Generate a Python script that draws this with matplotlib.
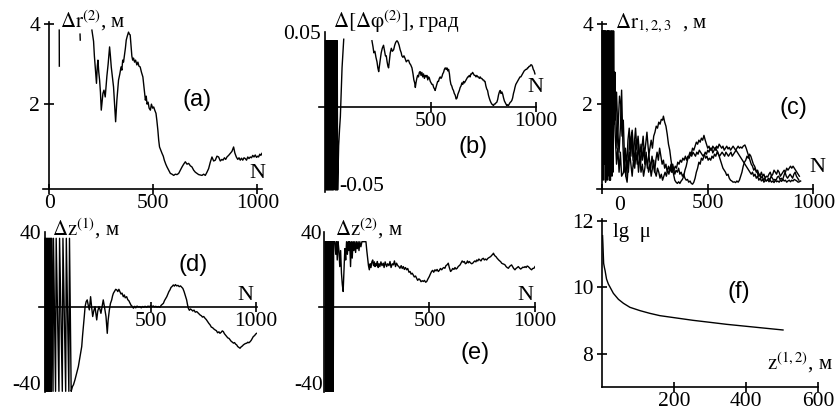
import numpy as np
import matplotlib
matplotlib.use('Agg')
import matplotlib.pyplot as plt

plt.rcParams['font.family'] = ['Liberation Serif', 'DejaVu Serif']
plt.rcParams['mathtext.fontset'] = 'stix'
plt.rcParams['axes.unicode_minus'] = False

nan = np.nan

# (a) dr^(2) vs N
a_pts = [(48, 3.85), (48.5, 2.95), (49, nan), (148, 3.75), (149, 3.6), (150, nan),
         (205, 3.85), (209, 3.7), (213, 3.57), (217, 3.2), (221, 2.93), (224, 2.7), (227, 2.52),
         (231, 2.95), (234, 3.1), (238, 2.8), (242, 2.6), (246, 2.3), (250, 1.85), (254, 2.05),
         (258, 2.27), (263, 2.35), (269, 2.18), (273, 2.45), (277, 2.7), (283, 3.0), (290, 3.43),
         (294, 3.2), (298, 2.93), (303, 2.7), (309, 2.43), (314, 2.0), (319, 1.56), (322, 1.85),
         (325, 2.1), (329, 2.35), (333, 2.6), (339, 2.75), (345, 2.93), (349, 2.85), (353, 3.1),
         (357, 3.05), (361, 3.2), (366, 3.4), (370, 3.6), (375, 3.7), (381, 3.8), (385, 3.75),
         (389, 3.73), (393, 3.45), (397, 3.2), (401, 3.1), (405, 3.15), (410, 3.05), (415, 3.1),
         (421, 2.98), (426, 3.05), (431, 2.95), (437, 2.93), (443, 2.8), (450, 2.68), (456, 2.4),
         (462, 2.1), (466, 2.2), (470, 2.0), (475, 2.05), (480, 1.9), (486, 1.85), (491, 2.0),
         (497, 1.9), (502, 1.93), (507, 1.85), (513, 1.77), (517, 1.6), (522, 1.35), (526, 1.1),
         (530, 0.93), (536, 0.85), (542, 0.77), (548, 0.7), (553, 0.6), (560, 0.5), (566, 0.43),
         (574, 0.35), (582, 0.27), (590, 0.25), (598, 0.22), (606, 0.25), (614, 0.24), (622, 0.27),
         (630, 0.35), (638, 0.43), (646, 0.5), (654, 0.56), (662, 0.5), (670, 0.52), (678, 0.46),
         (686, 0.43), (694, 0.35), (702, 0.3), (710, 0.27), (718, 0.24), (726, 0.23), (734, 0.22),
         (742, 0.25), (750, 0.22), (758, 0.3), (766, 0.39), (774, 0.55), (782, 0.68), (790, 0.58),
         (798, 0.6), (806, 0.7), (814, 0.68), (822, 0.58), (830, 0.62), (835, 0.6), (842, 0.66),
         (848, 0.62), (854, 0.68), (862, 0.72), (870, 0.77), (878, 0.82), (886, 0.93), (892, 0.78),
         (899, 0.68), (906, 0.62), (912, 0.66), (918, 0.6), (924, 0.65), (930, 0.6), (936, 0.66),
         (942, 0.64), (948, 0.6), (954, 0.68), (960, 0.64), (966, 0.68), (972, 0.66), (978, 0.72),
         (984, 0.68), (990, 0.73), (996, 0.67), (1002, 0.7), (1006, 0.68), (1012, 0.75),
         (1017, 0.72), (1022, 0.77)]

# (b) d[dphi^(2)] vs N
b_pts = [(0, 0.044), (2, -0.055), (4, 0.044), (6, -0.055), (8, 0.044), (10, -0.055), (12, 0.044),
         (14, -0.055), (16, 0.044), (18, -0.055), (20, 0.044), (22, -0.055), (24, 0.044),
         (26, -0.055), (28, 0.044), (30, -0.055), (32, 0.044), (34, -0.055), (36, 0.044),
         (38, -0.055), (40, 0.044), (41, nan), (44, 0.044), (46, -0.055), (48, 0.044), (50, -0.055),
         (52, 0.044), (54, -0.055), (56, 0.044), (58, -0.055), (63, -0.0256), (67, -0.015),
         (71, -0.0064), (75, 0.01), (79, 0.026), (83, 0.035), (87, 0.045), (88, nan),
         (221, 0.044), (226, 0.040), (230, 0.036), (235, 0.037), (240, 0.033), (245, 0.030),
         (249, 0.026), (253, 0.0235), (257, 0.028), (261, 0.032), (265, 0.036), (270, 0.039),
         (276, 0.041), (280, 0.038), (285, 0.034), (289, 0.034), (293, 0.030), (297, 0.027),
         (300, 0.026), (304, 0.031), (308, 0.036), (313, 0.039), (318, 0.037), (324, 0.038),
         (329, 0.041), (334, 0.043), (340, 0.044), (345, 0.043), (350, 0.041), (355, 0.038),
         (360, 0.036), (363, 0.034), (368, 0.033), (373, 0.034), (379, 0.032), (384, 0.030),
         (390, 0.031), (395, 0.031), (400, 0.029), (405, 0.028), (411, 0.026), (416, 0.022),
         (420, 0.018), (424, 0.016), (427, 0.013), (430, 0.016), (434, 0.019), (438, 0.021),
         (442, 0.020), (446, 0.023), (450, 0.0235), (454, 0.021), (458, 0.023), (462, 0.020),
         (466, 0.022), (470, 0.019), (474, 0.021), (478, 0.020), (482, 0.021), (486, 0.018),
         (490, 0.020), (494, 0.019), (498, 0.017), (502, 0.016), (506, 0.015), (510, 0.015),
         (514, 0.013), (518, 0.012), (521, 0.011), (525, 0.013), (529, 0.015), (533, 0.017),
         (537, 0.017), (541, 0.019), (545, 0.020), (549, 0.019), (553, 0.020), (557, 0.022),
         (561, 0.023), (565, 0.025), (569, 0.026), (573, 0.025), (577, 0.026), (581, 0.024),
         (585, 0.025), (589, 0.022), (592, 0.018), (596, 0.015), (600, 0.014), (604, 0.012),
         (608, 0.011), (612, 0.009), (616, 0.008), (621, 0.0053), (625, 0.006), (629, 0.0085),
         (632, 0.0096), (636, 0.011), (640, 0.013), (644, 0.014), (648, 0.016), (652, 0.015),
         (656, 0.017), (660, 0.016), (664, 0.017), (668, 0.018), (672, 0.019), (676, 0.020),
         (679, 0.020), (683, 0.021), (687, 0.020), (691, 0.022), (695, 0.022), (699, 0.023),
         (703, 0.022), (707, 0.021), (711, 0.021), (715, 0.020), (719, 0.021), (723, 0.020),
         (727, 0.020), (731, 0.019), (735, 0.020), (739, 0.019), (743, 0.019), (747, 0.018),
         (751, 0.018), (755, 0.017), (758, 0.017), (762, 0.014), (766, 0.012), (770, 0.011),
         (774, 0.008), (778, 0.006), (782, 0.0043), (786, 0.003), (790, 0.002), (794, 0.0015),
         (798, 0.001), (802, 0.002), (806, 0.002), (810, 0.0028), (814, 0.0032), (818, 0.005),
         (822, 0.008), (826, 0.010), (830, 0.011), (834, 0.009), (838, 0.010), (842, 0.0085),
         (846, 0.006), (850, 0.004), (853, 0.0032), (857, 0.002), (861, 0.001), (865, 0.0015),
         (869, 0.001), (873, 0.002), (877, 0.003), (881, 0.0035), (885, 0.0043), (889, 0.006),
         (893, 0.009), (897, 0.011), (900, 0.013), (904, 0.015), (908, 0.016), (912, 0.017),
         (916, 0.018), (920, 0.019), (924, 0.020), (928, 0.020), (932, 0.021), (936, 0.022),
         (940, 0.023), (944, 0.024), (948, 0.0245), (952, 0.025), (956, 0.025), (960, 0.026),
         (963, 0.026), (967, 0.027), (971, 0.027), (975, 0.028), (979, 0.028), (983, 0.027),
         (987, 0.025), (991, 0.024), (995, 0.022)]

# (c) dr_1, dr_2, dr_3 vs N
c1_pts = [(0, 3.83), (3, 0.3), (6, 3.83), (9, 0.8), (12, 3.83), (15, 0.1), (18, 3.83), (21, 1.2),
          (24, 3.83), (27, 0.2), (30, 3.83), (33, 0.6), (36, 3.6), (39, 0.1), (42, 3.83), (45, 1.0),
          (48, 3.3), (51, 0.3), (54, 3.83), (57, 1.5), (60, 2.8), (64, 1.85), (70, 0.9), (76, 1.5),
          (82, 2.2), (88, 2.0), (94, 1.2), (100, 1.6), (106, 0.6), (112, 0.2), (118, 0.05),
          (124, 0.5), (130, 1.2), (136, 0.7), (142, 1.35), (148, 0.9), (154, 0.5), (160, 1.1),
          (166, 0.8), (172, 0.3), (178, 0.7), (184, 1.0), (190, 0.6), (196, 0.9), (202, 0.5),
          (208, 0.8), (214, 0.4), (220, 0.7), (226, 0.9), (232, 1.1), (238, 0.9), (244, 1.2),
          (250, 1.3), (256, 1.45), (262, 1.4), (268, 1.55), (274, 1.5), (280, 1.62), (286, 1.6),
          (290, 1.7), (296, 1.55), (302, 1.45), (308, 1.25), (314, 1.0), (320, 0.85), (326, 0.6),
          (332, 0.4), (338, 0.25), (344, 0.1), (350, 0.05), (356, 0.02), (362, 0.06), (368, 0.02),
          (374, 0.08), (380, 0.12), (386, 0.2), (392, 0.35), (398, 0.45), (404, 0.6), (410, 0.7),
          (416, 0.8), (422, 0.75), (428, 0.9), (434, 0.85), (440, 0.95), (446, 1.05), (452, 1.0),
          (458, 1.1), (464, 1.05), (470, 1.15), (476, 1.1), (482, 1.22), (488, 1.1), (494, 1.0),
          (500, 0.9), (506, 0.95), (512, 0.85), (518, 0.9), (524, 0.78), (530, 0.85), (536, 0.92),
          (542, 0.85), (548, 0.8), (554, 0.7), (560, 0.6), (566, 0.5), (572, 0.4), (578, 0.35),
          (584, 0.3), (590, 0.22), (596, 0.25), (602, 0.15), (608, 0.1), (614, 0.08), (620, 0.05),
          (626, 0.06), (632, 0.04), (638, 0.08), (644, 0.05), (650, 0.1), (656, 0.2), (662, 0.3),
          (668, 0.45), (674, 0.55), (680, 0.6), (686, 0.7), (692, 0.65), (698, 0.75), (704, 0.7),
          (710, 0.6), (716, 0.5), (722, 0.45), (728, 0.35), (734, 0.3), (740, 0.2), (746, 0.25),
          (752, 0.15), (758, 0.2), (764, 0.1), (770, 0.15), (776, 0.08), (782, 0.1), (788, 0.15),
          (794, 0.1), (800, 0.2), (806, 0.15), (812, 0.1), (818, 0.12), (824, 0.1), (830, 0.18),
          (836, 0.2), (842, 0.12), (848, 0.15), (854, 0.1), (860, 0.2), (866, 0.3), (872, 0.2),
          (878, 0.15), (884, 0.2), (890, 0.25), (896, 0.2), (902, 0.15), (908, 0.25), (914, 0.3),
          (920, 0.2), (926, 0.15), (932, 0.1)]
c2_pts = [(1, 3.83), (4, 0.1), (7, 3.83), (10, 0.5), (13, 3.83), (16, 0.05), (19, 3.7), (22, 0.9),
          (25, 3.83), (28, 0.4), (31, 3.83), (34, 0.1), (37, 3.83), (40, 1.3), (43, 3.5), (46, 0.2),
          (49, 3.83), (52, 0.8), (55, 2.4), (62, 1.6), (68, 2.3), (74, 1.3), (80, 0.8), (86, 1.4),
          (92, 2.35), (98, 1.0), (104, 0.3), (110, 0.9), (116, 0.4), (122, 1.1), (128, 1.4),
          (134, 0.9), (140, 1.3), (146, 0.6), (152, 1.0), (158, 1.4), (164, 0.9), (170, 1.2),
          (176, 0.8), (182, 0.5), (188, 0.9), (194, 1.2), (200, 0.7), (206, 1.0), (212, 1.3),
          (218, 0.9), (224, 0.6), (230, 0.4), (236, 0.7), (242, 0.5), (248, 0.3), (254, 0.6),
          (260, 0.8), (266, 0.6), (272, 0.9), (278, 0.7), (284, 0.5), (290, 0.6), (296, 0.4),
          (302, 0.5), (308, 0.3), (314, 0.45), (320, 0.35), (326, 0.5), (332, 0.3), (338, 0.4),
          (344, 0.25), (350, 0.35), (356, 0.3), (362, 0.4), (368, 0.25), (374, 0.3), (380, 0.2),
          (386, 0.25), (392, 0.15), (398, 0.1), (404, 0.12), (410, 0.05), (416, 0.08), (422, 0.02),
          (428, 0.0), (434, 0.05), (440, 0.15), (446, 0.3), (452, 0.4), (458, 0.55), (464, 0.5),
          (470, 0.65), (476, 0.6), (482, 0.7), (488, 0.8), (494, 0.75), (500, 0.85), (506, 0.8),
          (512, 0.9), (518, 0.85), (524, 0.95), (530, 0.9), (536, 0.85), (542, 0.95), (548, 0.9),
          (554, 1.0), (560, 0.95), (566, 0.9), (572, 0.95), (578, 0.85), (584, 0.9), (590, 0.95),
          (596, 0.88), (602, 0.92), (608, 0.85), (614, 0.9), (620, 0.95), (626, 0.9), (632, 0.85),
          (638, 0.9), (644, 0.95), (650, 0.9), (656, 0.93), (662, 0.9), (668, 0.95), (676, 0.98),
          (682, 0.9), (688, 0.8), (694, 0.7), (700, 0.6), (706, 0.5), (712, 0.45), (718, 0.35),
          (724, 0.4), (730, 0.3), (736, 0.35), (742, 0.25), (748, 0.2), (754, 0.3), (760, 0.2),
          (766, 0.25), (772, 0.15), (778, 0.2), (784, 0.18), (790, 0.25), (796, 0.3), (802, 0.2),
          (808, 0.25), (814, 0.35), (820, 0.3), (826, 0.25), (832, 0.35), (838, 0.3), (844, 0.2),
          (850, 0.25), (856, 0.3), (862, 0.35), (868, 0.3), (874, 0.4), (880, 0.35), (886, 0.4),
          (892, 0.45), (898, 0.4), (904, 0.45), (910, 0.4), (916, 0.35), (922, 0.3), (928, 0.25),
          (934, 0.2)]
c3_pts = [(2, 3.83), (5, 0.2), (8, 3.83), (11, 0.6), (14, 3.83), (17, 0.3), (20, 3.5), (23, 0.1),
          (26, 3.83), (29, 0.7), (32, 3.83), (35, 0.2), (38, 3.2), (41, 0.5), (44, 3.83), (50, 3.2),
          (56, 2.0), (62, 1.2), (68, 0.5), (74, 0.9), (80, 0.3), (86, 0.8), (92, 0.2), (100, 0.28),
          (106, 0.5), (112, 0.2), (118, 0.6), (124, 0.3), (130, 0.8), (136, 0.5), (142, 0.2),
          (148, 0.6), (154, 0.4), (160, 0.8), (166, 0.5), (172, 1.0), (178, 0.6), (184, 0.3),
          (190, 0.5), (196, 0.2), (202, 0.4), (208, 0.7), (214, 0.5), (220, 0.3), (226, 0.5),
          (232, 0.2), (238, 0.4), (244, 0.6), (250, 0.3), (256, 0.2), (262, 0.4), (268, 0.3),
          (274, 0.15), (280, 0.25), (286, 0.1), (292, 0.2), (298, 0.3), (304, 0.2), (310, 0.35),
          (316, 0.25), (322, 0.4), (328, 0.3), (334, 0.5), (340, 0.35), (346, 0.45), (352, 0.4),
          (358, 0.55), (364, 0.5), (370, 0.6), (376, 0.55), (382, 0.65), (388, 0.6), (394, 0.7),
          (400, 0.6), (406, 0.7), (412, 0.65), (418, 0.75), (424, 0.7), (430, 0.8), (436, 0.75),
          (442, 0.7), (448, 0.8), (454, 0.75), (460, 0.85), (466, 0.8), (472, 0.75), (478, 0.7),
          (484, 0.75), (490, 0.65), (496, 0.7), (502, 0.6), (508, 0.65), (514, 0.6), (520, 0.7),
          (526, 0.65), (532, 0.75), (538, 0.7), (544, 0.8), (550, 0.75), (556, 0.7), (562, 0.75),
          (568, 0.8), (574, 0.75), (580, 0.7), (586, 0.8), (592, 0.75), (598, 0.7), (604, 0.75),
          (610, 0.8), (616, 0.7), (622, 0.75), (628, 0.8), (634, 0.85), (640, 0.8), (646, 0.75),
          (652, 0.7), (658, 0.65), (664, 0.6), (670, 0.55), (676, 0.5), (682, 0.45), (688, 0.4),
          (694, 0.35), (700, 0.3), (706, 0.25), (712, 0.3), (718, 0.2), (724, 0.25), (730, 0.15),
          (736, 0.2), (742, 0.1), (748, 0.15), (754, 0.08), (760, 0.12), (766, 0.05), (772, 0.1),
          (778, 0.08), (784, 0.12), (790, 0.06), (796, 0.1), (802, 0.05), (808, 0.08), (814, 0.04),
          (820, 0.1), (826, 0.06), (832, 0.08), (838, 0.05), (844, 0.1), (850, 0.07), (856, 0.12),
          (862, 0.08), (868, 0.1), (874, 0.05), (880, 0.08), (886, 0.1), (892, 0.06), (898, 0.1),
          (904, 0.08), (910, 0.12), (916, 0.1), (922, 0.08), (928, 0.05), (934, 0.06), (940, 0.08)]

# (d) dz^(1) vs N
d_pts = [(0, 36.5), (2, -44.5), (4, 36.5), (6, -44.5), (8, 36.5), (10, -44.5), (12, 36.5),
         (14, -44.5), (16, 36.5), (18, -44.5), (20, 36.5), (22, -44.5), (24, 36.5), (26, -44.5),
         (28, 36.5), (30, -44.5), (32, 36.5), (38, -44.5), (40, 36.5), (50, -44.5), (53, 36.5),
         (66, -44.5), (69, 36.5), (82, -44.5), (85, 36.5), (98, -44.5), (101, 36.5), (113, -44.5),
         (116, 36.5), (124, -44.5), (130, -42), (135, -41), (142, -38.4), (150, -35), (158, -31.4),
         (166, -26), (174, -20.8), (178, -15), (182, -10.2), (186, -5), (190, 0.35), (195, 3),
         (200, 3.9), (205, 1), (210, -1.4), (213, 2), (216, 5.6), (221, 0), (226, -4.9), (231, -2),
         (237, 0.35), (241, -3), (245, -6.7), (250, -2), (256, 0.35), (260, -1), (265, -3.2),
         (270, 0), (276, 3.9), (282, 0), (289, -4.9), (292, -9), (295, -13.8), (299, -7),
         (305, -1.4), (310, 2), (316, 3.9), (320, 6), (324, 7.4), (330, 8.5), (335, 9.5),
         (340, 9.2), (345, 8.3), (350, 9.5), (355, 8.3), (360, 7), (365, 7.5), (371, 5.6),
         (376, 6.5), (380, 5), (387, 5.6), (392, 4), (397, 3.5), (403, 2.1), (408, 1), (413, 0.5),
         (419, -0.5), (425, 0.5), (430, -0.3), (436, 0.6), (442, 0.2), (450, 0.35), (456, -0.3),
         (462, 0.4), (468, 0), (474, 0.5), (482, 0), (488, 0.6), (494, 0.2), (500, 0.8), (506, 0.3),
         (513, 0.7), (519, 0.2), (525, 0.5), (531, 0.1), (537, 0.4), (545, 0), (550, 1.0),
         (555, 1.5), (561, 2.1), (566, 3.5), (571, 4.5), (577, 5.6), (582, 7), (587, 8.3),
         (592, 9.2), (597, 10.5), (602, 11), (608, 11.8), (613, 11.2), (618, 12), (624, 11.3),
         (630, 11.6), (636, 10.9), (642, 11.3), (648, 10.6), (653, 10), (659, 8.3), (665, 6),
         (671, 3.9), (675, 1.5), (679, -0.5), (684, -1.6), (689, -0.9), (695, -1.4), (700, -2.0),
         (706, -1.5), (712, -2.6), (719, -2.3), (725, -3.0), (730, -3.5), (735, -4.1), (741, -4.5),
         (746, -5.2), (752, -4.9), (758, -5.8), (764, -6.5), (770, -7.5), (776, -8.5), (782, -9.3),
         (788, -10.5), (794, -10.8), (800, -11.5), (806, -12), (812, -12.4), (818, -13.5),
         (824, -13), (829, -13.8), (835, -13.2), (840, -12.5), (845, -12.9), (850, -14),
         (856, -14.8), (861, -15.5), (866, -16.2), (872, -16.5), (877, -17.3), (882, -18),
         (888, -18.5), (893, -19), (898, -18.7), (903, -19.5), (908, -19.9), (913, -20.8),
         (918, -21.2), (924, -21.7), (929, -21), (935, -20.5), (940, -19.9), (945, -19.5),
         (950, -19.2), (956, -19), (961, -18.5), (966, -18.8), (972, -18.2), (977, -17.5),
         (982, -16.5), (987, -15.5), (993, -15), (998, -14.2), (1003, -13.8)]

# (e) dz^(2) vs N
e_pts = [(5, 34.7), (7, -44.8), (9, 34.7), (11, -44.8), (13, 34.7), (15, -44.8), (17, 34.7),
         (19, -44.8), (21, 34.7), (23, -44.8), (25, 34.7), (27, -44.8), (29, 34.7), (31, -44.8),
         (33, 34.7), (35, -44.8), (37, 34.7), (39, -44.8), (41, 34.7), (44, -44.8), (46, 34.7),
         (52, 34.7), (56, 28), (60, 34.7), (63, 25), (67, 34.7), (71, 30), (75, 21.5), (79, 30),
         (83, 18), (87, 12), (91, 8.3), (95, 20), (99, 31), (103, 25), (107, 34.7), (111, 28),
         (115, 34.7), (118, 30), (122, 34.7), (126, 21.5), (130, 34.7), (134, 26), (138, 34.7),
         (142, 30), (146, 34.7), (150, 29), (154, 34.7), (158, 31), (162, 34.7), (166, 30),
         (170, 34.7), (175, 32), (180, 34.7), (199, 34.7), (203, 30), (207, 26), (211, 22),
         (215, 19.8), (219, 23), (223, 21), (227, 24), (231, 25), (235, 22), (239, 24), (242, 21.5),
         (246, 23), (250, 22), (253, 24.2), (257, 21), (261, 23), (265, 21.5), (270, 24), (275, 22),
         (281, 23.3), (285, 21), (290, 24), (297, 21.5), (302, 23), (308, 22), (313, 24.2),
         (318, 21), (324, 23), (329, 22.4), (334, 24.5), (339, 21.5), (344, 23.3), (350, 22),
         (355, 21.5), (360, 20.6), (366, 22), (371, 20.5), (376, 21.5), (381, 20), (386, 21),
         (392, 19.8), (397, 20.5), (403, 18.5), (408, 18.9), (413, 17.5), (418, 18), (423, 17.1),
         (428, 16), (434, 16.5), (439, 15.3), (444, 14.2), (450, 15), (455, 14.5), (460, 13.5),
         (466, 14), (471, 13.6), (476, 14.2), (482, 13.2), (487, 13.6), (493, 15), (499, 16.2),
         (504, 17.5), (510, 18.9), (515, 19.5), (520, 18.5), (526, 19.8), (531, 19.2), (536, 20),
         (542, 18.9), (547, 19.5), (552, 20.5), (558, 19.8), (563, 20.6), (568, 21), (573, 20.6),
         (578, 22), (584, 22.5), (589, 23.3), (594, 21), (600, 18.9), (605, 19.5), (610, 20.5),
         (616, 20), (621, 21), (626, 20.2), (631, 20.6), (636, 21.5), (641, 22), (645, 22.4),
         (650, 23.5), (655, 24.5), (660, 23.8), (665, 24.2), (670, 23), (675, 23.3), (680, 24.5),
         (684, 23.5), (689, 24.2), (694, 23.5), (700, 23), (705, 23.3), (710, 24), (715, 24.5),
         (720, 24), (724, 25), (729, 24.5), (734, 25.5), (739, 25), (744, 24.5), (749, 25.5),
         (755, 25.9), (760, 25), (765, 25.5), (771, 25), (776, 25.8), (781, 26.2), (786, 26.5),
         (790, 26.8), (795, 27.5), (800, 28), (803, 28.6), (808, 27.5), (812, 27), (815, 26.8),
         (820, 26), (824, 25.5), (828, 25), (833, 24.5), (838, 24), (842, 23.3), (847, 23),
         (852, 22.8), (858, 22.4), (863, 21.5), (868, 21), (874, 20.6), (879, 21.5), (884, 22),
         (889, 22.4), (894, 21.5), (899, 20.5), (905, 19.8), (910, 20.5), (916, 21), (921, 21.5),
         (926, 20.8), (932, 20.2), (937, 20.6), (942, 21.2), (948, 21), (953, 21.5), (958, 21),
         (963, 21.8), (968, 21.5), (974, 20.8), (979, 20.2), (984, 19.8), (989, 20.5), (995, 20.6),
         (1000, 21.5)]

# (f) lg mu vs z
f_z = [1, 2, 3, 4, 6, 8, 12, 17, 22, 31, 45, 59, 77, 105, 132, 160, 206, 252, 299, 345, 391, 437, 474, 502]
f_lgmu = [11.55, 11.3, 11.0, 10.72, 10.6, 10.5, 10.25, 10.1, 10.0, 9.82, 9.64, 9.52, 9.4, 9.3,
          9.22, 9.15, 9.08, 9.01, 8.95, 8.89, 8.84, 8.79, 8.75, 8.72]

W, H = 836, 415
fig = plt.figure(figsize=(W / 100, H / 100), dpi=100)


def box(l, t, r, b):
    return [l / W, 1 - b / H, (r - l) / W, (b - t) / H]


def ftext(x, y, s, **kw):
    kw.setdefault('ha', 'center')
    kw.setdefault('va', 'center')
    fig.text(x / W, 1 - y / H, s, **kw)


def style(ax, xzero=None, ylen=7):
    for s in ('top', 'right'):
        ax.spines[s].set_visible(False)
    ax.spines['left'].set_position(('data', 0))
    if xzero is not None:
        ax.spines['bottom'].set_position(('data', xzero))
    for s in ('left', 'bottom'):
        ax.spines[s].set_linewidth(1.2)
    ax.tick_params(direction='inout', length=7, width=1.2, labelsize=15.5)
    ax.tick_params(axis='x', pad=0)
    ax.tick_params(axis='y', pad=3, length=ylen)
    ax.patch.set_alpha(0)


def draw(ax, pts):
    n, v = np.array(pts).T
    ax.plot(n, v, color='black', lw=1.0)


lab = dict(fontsize=15, ha='left', va='baseline')
letter = dict(fontsize=17, family=['Liberation Sans', 'DejaVu Sans'])
big = dict(fontsize=16)

# (a)
ax = fig.add_axes(box(43, 21.7, 261.7, 189))
ax.set_xlim(-30, 1021)
ax.set_ylim(-0.12, 4.06)
style(ax)
draw(ax, a_pts)
ax.set_xticks([0, 500, 1000])
ax.set_yticks([2, 4])
ftext(60, 28, r'$\Delta\mathrm{r}^{(2)}$, м', **lab)
ftext(197, 100, '(a)', **letter)
ftext(257, 173, 'N', **big)

# (b)
ax = fig.add_axes(box(319.3, 31.7, 536, 191.7))
ax.set_xlim(-29, 1000)
ax.set_ylim(-0.0562, 0.05)
style(ax, xzero=0, ylen=0)
draw(ax, b_pts)
ax.set_xticks([500, 1000])
ax.set_yticks([0.05], ['0.05'])
ftext(333, 28, r'$\Delta[\Delta\mathrm{\varphi}^{(2)}]$, град', **lab)
ftext(535, 88, 'N', **big)
ftext(473, 147, '(b)', **letter)
ftext(362, 186, '-0.05', fontsize=15.5)

# (c)
ax = fig.add_axes(box(596.7, 21.7, 813.3, 189))
ax.set_xlim(-26, 1000)
ax.set_ylim(-0.12, 4.06)
style(ax)
draw(ax, c1_pts)
draw(ax, c2_pts)
draw(ax, c3_pts)
ax.set_xticks([0, 500, 1000], ['', '500', '1000'])
ax.set_yticks([2, 4])
ftext(620, 205, '0', fontsize=15.5)
ftext(615, 28, r'$\Delta\mathrm{r}_{1,2,3}$  , м', **lab)
ftext(793, 108, '(c)', **letter)
ftext(817, 167, 'N', **big)

# (d)
ax = fig.add_axes(box(39.3, 231.7, 256.7, 391.7))
ax.set_xlim(-27, 1003)
ax.set_ylim(-44.7, 40)
style(ax, xzero=0, ylen=0)
draw(ax, d_pts)
ax.set_xticks([500, 1000])
ax.set_yticks([-40, 40])
ftext(52, 236, r'$\Delta\mathrm{z}^{(1)}$, м', **lab)
ftext(193, 265, '(d)', **letter)
ftext(245, 295, 'N', **big)

# (e)
ax = fig.add_axes(box(319.3, 231.7, 535, 392))
ax.set_xlim(-22, 1000)
ax.set_ylim(-45, 40)
style(ax, xzero=0, ylen=0)
ax.tick_params(axis='y', pad=1)
draw(ax, e_pts)
ax.set_xticks([500, 1000])
ax.set_yticks([-40, 40])
ftext(335, 236, r'$\Delta\mathrm{z}^{(2)}$, м', **lab)
ftext(475, 353, '(e)', **letter)
ftext(525, 295, 'N', **big)

# (f)
ax = fig.add_axes(box(602.2, 219, 818.3, 387.3))
ax.set_xlim(0, 600)
ax.set_ylim(7, 12.05)
style(ax)
ax.plot(f_z, f_lgmu, color='black', lw=1.0)
ax.set_xticks([200, 400, 600])
ax.set_yticks([8, 10, 12])
ftext(613, 237, 'lg  μ', **lab)
ftext(739, 292, '(f)', **letter)
ftext(767, 370, r'$\mathrm{z}^{(1,2)}$, м', **lab)

fig.savefig('out.png', dpi=100)
